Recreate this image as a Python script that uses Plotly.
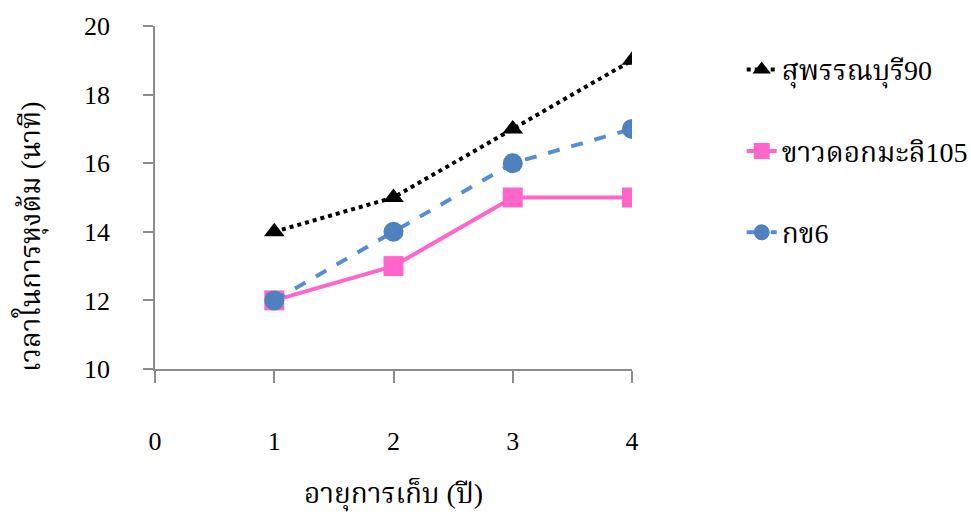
import plotly.graph_objects as go

# Storage age (years) and cooking time (minutes) for three rice varieties
years = [1, 2, 3, 4]
suphanburi90 = [14, 15, 17, 19]
khaodokmali105 = [12, 13, 15, 15]
rd6 = [12, 14, 16, 17]

x_ticks = [0, 1, 2, 3, 4]
y_ticks = [10, 12, 14, 16, 18, 20]

FONT = "Liberation Serif, Times New Roman, Noto Serif Thai, serif"
AXIS_GREY = "#8c8c8c"

fig = go.Figure()

fig.add_trace(go.Scatter(
    x=years, y=suphanburi90, name="สุพรรณบุรี90", mode="lines+markers",
    line=dict(color="black", width=4, dash="dot"),
    marker=dict(symbol="triangle-up", size=18, color="black"),
    legendgroup="a",
))
fig.add_trace(go.Scatter(
    x=years, y=khaodokmali105, name="ขาวดอกมะลิ105", mode="lines+markers",
    line=dict(color="#FF66CC", width=4),
    marker=dict(symbol="square", size=20, color="#FF66CC"),
    legendgroup="b",
))
fig.add_trace(go.Scatter(
    x=years, y=rd6, name="กข6", mode="lines+markers",
    line=dict(color="#558ED5", width=4, dash="dash"),
    marker=dict(symbol="circle", size=20, color="#4F81BD"),
    legendgroup="c",
))

fig.update_layout(
    width=971, height=514,
    margin=dict(l=155, r=339, t=26, b=145, autoexpand=False),
    paper_bgcolor="white", plot_bgcolor="white",
    font=dict(family=FONT, size=26, color="black"),
    showlegend=True,
    legend=dict(
        x=1.23, y=0.945, xanchor="left", yanchor="top",
        font=dict(family=FONT, size=28, color="black"),
        tracegroupgap=42, bgcolor="rgba(0,0,0,0)",
    ),
    xaxis=dict(
        range=[0, 4], tickvals=x_ticks, ticktext=[str(v) for v in x_ticks],
        showgrid=False, zeroline=False, showline=True, linecolor=AXIS_GREY,
        linewidth=1.5, ticks="outside", ticklen=12, tickcolor=AXIS_GREY,
        tickwidth=1.5, ticklabelstandoff=36,
        tickfont=dict(family=FONT, size=26),
        title=dict(text="อายุการเก็บ (ปี)", font=dict(family=FONT, size=28),
                   standoff=28),
    ),
    yaxis=dict(
        range=[10, 20], tickvals=y_ticks,
        showgrid=False, zeroline=False, showline=True, linecolor=AXIS_GREY,
        linewidth=1.5, ticks="outside", ticklen=10, tickcolor=AXIS_GREY,
        tickwidth=1.5, ticklabelstandoff=28,
        tickfont=dict(family=FONT, size=26),
    ),
    annotations=[dict(
        text="เวลาในการหุงต้ม (นาที)", textangle=-90,
        xref="paper", yref="paper", x=-0.262, y=0.385,
        xanchor="center", yanchor="middle", showarrow=False,
        font=dict(family=FONT, size=28, color="black"),
    )],
)

fig.write_html("out.html")
